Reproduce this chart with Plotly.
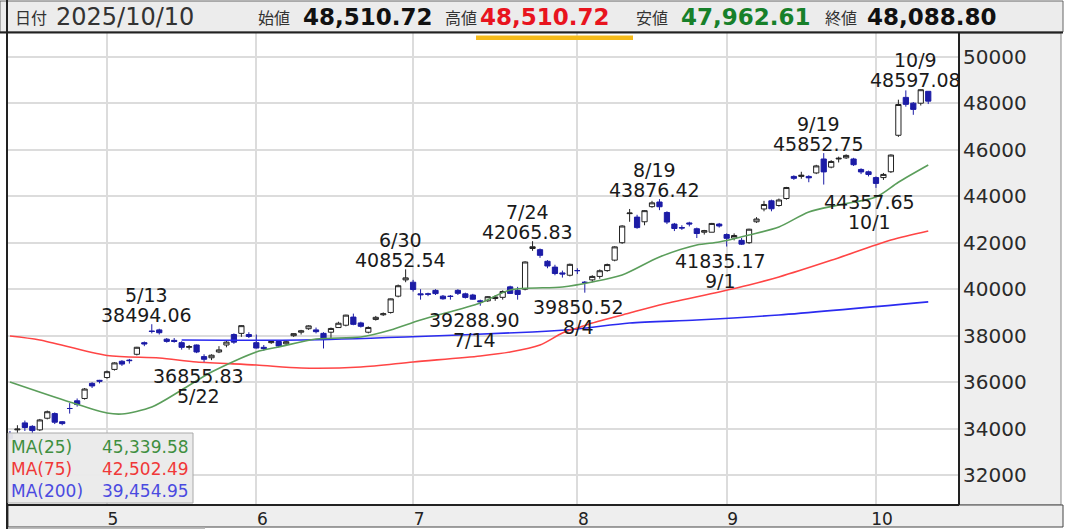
import plotly.graph_objects as go

# ---------------- data ----------------
dates = ["4/11","4/14","4/15","4/16","4/17","4/18","4/21","4/22","4/23","4/24","4/25","4/28","4/30",
         "5/1","5/2","5/7","5/8","5/9","5/12","5/13","5/14","5/15","5/16","5/19","5/20","5/21","5/22","5/23",
         "5/26","5/27","5/28","5/29","5/30",
         "6/2","6/3","6/4","6/5","6/6","6/9","6/10","6/11","6/12","6/13","6/16","6/17","6/18","6/19","6/20",
         "6/23","6/24","6/25","6/26","6/27","6/30",
         "7/1","7/2","7/3","7/4","7/7","7/8","7/9","7/10","7/11","7/14","7/15","7/16","7/17","7/18",
         "7/22","7/23","7/24","7/25","7/28","7/29","7/30","7/31",
         "8/1","8/4","8/5","8/6","8/7","8/8","8/12","8/13","8/14","8/15","8/18","8/19","8/20","8/21","8/22",
         "8/25","8/26","8/27","8/28","8/29",
         "9/1","9/2","9/3","9/4","9/5","9/8","9/9","9/10","9/11","9/12","9/16","9/17","9/18","9/19",
         "9/22","9/24","9/25","9/26","9/29","9/30",
         "10/1","10/2","10/3","10/6","10/7","10/8","10/9","10/10"]

opens = [33750,33950,34250,34100,33950,34450,34650,34300,34870,35200,35300,35950,36080,
         36200,36550,36900,36950,37200,37700,38200,38250,37850,37800,37700,37500,37600,37100,37050,
         37300,37600,38050,38100,38050,
         37700,37500,37700,37750,37650,38000,38150,38300,38250,38100,38150,38350,38450,38800,38550,
         38150,38700,38900,39000,39700,40400,
         40300,39800,39800,39950,39700,39700,39950,39800,39750,39500,39500,39600,39650,40100,
         39950,40000,41750,41700,41200,40950,40700,40600,
         40800,40300,40400,40550,40800,41250,42000,43250,43100,42900,43550,43750,43300,42800,42650,
         42850,42600,42450,42450,42800,
         42350,42200,42100,42000,42900,43450,43800,43600,43900,44850,44850,44850,45000,45600,
         45250,45600,45650,45600,45150,45050,
         44800,44800,45050,46620,48250,48000,48000,48510.72]
highs = [33900,34150,34350,34150,34420,34780,34700,34330,35100,35300,35750,36000,36100,
         36500,36860,36950,37000,37520,37750,38494.06,38300,37900,37900,37760,37600,37620,37200,37200,
         37550,37800,38100,38450,38150,
         38050,37600,37800,37800,37800,38100,38250,38450,38350,38150,38350,38600,38900,38950,38600,
         38400,38850,39000,39600,40200,40852.54,
         40400,40000,39850,40000,39750,39750,40000,39850,39800,39550,39700,39750,39950,40150,
         40100,41200,42065.83,41750,41250,41050,40800,41100,
         40900,40350,40600,40850,41100,41850,42750,43450,43200,43400,43800,43876.42,43350,42850,42750,
         42900,42650,42550,42850,42850,
         42400,42400,42200,42600,43100,43800,43850,43900,44400,44900,45050,44900,45350,45852.75,
         45550,45700,45800,45650,45200,45100,
         44850,45000,45800,48150,48550,48050,48597.08,48510.72]
lows = [33450,33800,33900,33750,33900,34400,34200,34150,34650,34950,35250,35750,35950,
        36150,36500,36700,36800,37150,37550,38100,38050,37700,37700,37400,37400,37250,36855.83,36950,
        37250,37500,37650,37950,37900,
        37450,37350,37650,37500,37600,37950,38050,38250,38100,37450,37850,38350,38400,38450,38350,
        38100,38650,38850,38950,39650,40300,
        39900,39550,39700,39750,39550,39550,39750,39600,39550,39288.90,39450,39500,39550,39800,
        39550,39950,41650,41350,40900,40600,40500,40550,
        40650,39850.52,40300,40450,40750,41200,41950,42900,42600,42750,43500,43400,42800,42500,42550,
        42700,42200,42350,42450,42650,
        41835.17,42100,41900,41950,42850,43350,43350,43550,43850,44700,44750,44600,44950,44500,
        45200,45450,45600,45300,44950,44850,
        44357.65,44700,45000,46550,47850,47500,47900,47962.61]
closes = [33585,33982,34050,33920,34377,34730,34279,34220,34868,35039,35705,35839,36045,
          36452,36830,36779,36928,37503,37644,38183,38128,37755,37753,37498,37529,37299,36985,37160,
          37390,37724,37722,38432,37965,
          37470,37446,37747,37554,37741,38088,38211,38421,38173,37834,38311,38536,38885,38488,38403,
          38354,38790,38942,39584,40150,40487,
          39986,39762,39785,39810,39587,39688,39821,39646,39569,39459,39678,39663,39901,39819,
          39774,41171,41826,41456,40998,40674,40654,41069,
          40799,40290,40549,40794,41059,41820,42718,43274,42649,43378,43714,43546,42888,42610,42633,
          42807,42394,42520,42828,42718,
          42188,42310,41938,42580,43018,43643,43459,43837,44372,44768,44902,44790,45303,45045,
          45493,45630,45754,45354,45043,44932,
          44550,44936,45769,47944,47950,47734,48580,48088.80]

# moving averages at these trading-day positions
ma25_pos = [0, 8, 13, 15, 19, 23, 27, 33, 36, 41, 47, 51, 55, 63, 67, 74, 78, 82, 87, 92, 95, 99, 103, 107, 111, 116, 119, 123]
ma25_val = [36009, 35150, 34676, 34633, 34934, 35665, 36439, 37300, 37515, 37860, 37946, 38247, 38677, 39408,
            39967, 40096, 40311, 40612, 41386, 41902, 42031, 42332, 42676, 43321, 43622, 43966, 44600, 45339.58]
ma75_pos = [0, 4, 13, 20, 25, 33, 39, 47, 54, 63, 67, 71, 74, 76, 78, 83, 87, 95, 99, 103, 110, 118, 123]
ma75_val = [37987, 37815, 37149, 37041, 36869, 36740, 36611, 36654, 36869, 37127, 37299, 37600, 38116, 38331,
            38546, 38976, 39320, 39879, 40180, 40524, 41240, 42115, 42502.49]
ma200_pos = [23, 39, 53, 70, 76, 83, 92, 103, 123]
ma200_val = [37815, 37815, 37944, 38160, 38288, 38546, 38675, 38891, 39454.95]

month_pos = [13, 33, 54, 76, 96, 116]
month_txt = ["5", "6", "7", "8", "9", "10"]
y_ticks = [32000, 34000, 36000, 38000, 40000, 42000, 44000, 46000, 48000, 50000]

# (index, kind, date label, value label)
marks = [(19, "H", "5/13", "38494.06"), (26, "L", "5/22", "36855.83"),
         (53, "H", "6/30", "40852.54"), (63, "L", "7/14", "39288.90"),
         (70, "H", "7/24", "42065.83"), (77, "L", "8/4", "39850.52"),
         (87, "H", "8/19", "43876.42"), (96, "L", "9/1", "41835.17"),
         (109, "H", "9/19", "45852.75"), (116, "L", "10/1", "44357.65"),
         (122, "H", "10/9", "48597.08")]

header = [("日付", "label"), ("2025/10/10", "date"),
          ("始値", "label"), ("48,510.72", "#111111"),
          ("高値", "label"), ("48,510.72", "#e8141e"),
          ("安値", "label"), ("47,962.61", "#17802a"),
          ("終値", "label"), ("48,088.80", "#111111")]
header_x = [13, 54, 256, 301, 443, 478, 634, 679, 823, 865]

ma_names = ["MA(25)", "MA(75)", "MA(200)"]
ma_last = ["45,339.58", "42,502.49", "39,454.95"]

# ---------------- style / layout ----------------
W, H = 1067, 529
L, R, T, B = 8, 959, 33, 505
FONT = "DejaVu Sans, Noto Sans CJK JP, sans-serif"
JFONT = "Noto Sans CJK JP, DejaVu Sans, sans-serif"
MA_COLORS = ["#5b9e5b", "#ff4545", "#2b2bf0"]
MA_TEXT = ["#3f8f3f", "#f03838", "#4a4ae0"]
DOWN = "#1c1ca6"

def px(x):
    return (x - L) / (R - L)

def py(y):
    return (B - y) / (B - T)

idx = list(range(len(dates)))
fig = go.Figure()

for pos, val, col in zip([ma200_pos, ma75_pos, ma25_pos], [ma200_val, ma75_val, ma25_val],
                         [MA_COLORS[2], MA_COLORS[1], MA_COLORS[0]]):
    fig.add_trace(go.Scatter(x=pos, y=val, mode="lines", showlegend=False, hoverinfo="skip",
                             line=dict(color=col, width=1.6, shape="spline", smoothing=0.8)))

fig.add_trace(go.Candlestick(
    x=idx, open=opens, high=highs, low=lows, close=closes, text=dates, showlegend=False,
    whiskerwidth=0,
    increasing=dict(line=dict(color="#222222", width=1), fillcolor="#ffffff"),
    decreasing=dict(line=dict(color=DOWN, width=1), fillcolor=DOWN)))

shapes = [
    # header
    dict(type="rect", xref="paper", yref="paper", x0=px(0), x1=px(1063), y0=py(32), y1=py(1),
         fillcolor="#ececec", line=dict(color="#666666", width=1), layer="below"),
    dict(type="line", xref="paper", yref="paper", x0=px(0), x1=px(1063), y0=py(32.5), y1=py(32.5),
         line=dict(color="#222222", width=2)),
    # right axis panel
    dict(type="rect", xref="paper", yref="paper", x0=px(959), x1=px(1061), y0=py(505), y1=py(33),
         fillcolor="#eeeeee", line=dict(color="#888888", width=1), layer="below"),
    # bottom axis band
    dict(type="rect", xref="paper", yref="paper", x0=px(8), x1=px(1063), y0=py(527), y1=py(505),
         fillcolor="#eeeeee", line=dict(color="#444444", width=1), layer="below"),
    dict(type="rect", xref="paper", yref="paper", x0=px(8), x1=px(205), y0=py(529), y1=py(527.5),
         fillcolor="#bbbbbb", line=dict(width=0), layer="below"),
    # plot frame
    dict(type="line", xref="paper", yref="paper", x0=px(7), x1=px(7), y0=py(529), y1=py(0),
         line=dict(color="#222222", width=2)),
    dict(type="line", xref="paper", yref="paper", x0=1, x1=1, y0=0, y1=py(33),
         line=dict(color="#222222", width=2)),
    dict(type="line", xref="paper", yref="paper", x0=0, x1=1, y0=0, y1=0,
         line=dict(color="#222222", width=2)),
    # highlight under high price
    dict(type="rect", xref="paper", yref="paper", x0=px(476), x1=px(633), y0=py(40), y1=py(35.5),
         fillcolor="#f6bb1a", line=dict(width=0), layer="above"),
    # MA legend box
    dict(type="rect", xref="paper", yref="paper", x0=px(8), x1=px(193), y0=py(503), y1=py(433),
         fillcolor="rgba(234,234,234,0.95)", line=dict(color="#aaaaaa", width=1), layer="above"),
]

annotations = []
for i, kind, dtxt, vtxt in marks:
    yv = highs[i] if kind == "H" else lows[i]
    if kind == "H":
        annotations.append(dict(x=i, y=yv, text=vtxt, yshift=9, xshift=-5))
        annotations.append(dict(x=i, y=yv, text=dtxt, yshift=29, xshift=-5))
    else:
        annotations.append(dict(x=i, y=yv, text=vtxt, yshift=-14, xshift=-6))
        annotations.append(dict(x=i, y=yv, text=dtxt, yshift=-34, xshift=-6))
for a in annotations:
    a.update(xref="x", yref="y", showarrow=False, xanchor="center", yanchor="middle",
             font=dict(family=FONT, size=19, color="#1a1a1a"))

for (txt, kind), x in zip(header, header_x):
    if kind == "label":
        f = dict(family=JFONT, size=16, color="#333333")
        t = txt
    elif kind == "date":
        f = dict(family=FONT, size=24, color="#333333")
        t = txt
    else:
        f = dict(family=FONT, size=23, color=kind)
        t = "<b>" + txt + "</b>"
    annotations.append(dict(xref="paper", yref="paper", x=px(x), y=py(17), text=t, showarrow=False,
                            xanchor="left", yanchor="middle", font=f))

for k in range(3):
    yy = py(447 + 22 * k)
    annotations.append(dict(xref="paper", yref="paper", x=px(9), y=yy, text=ma_names[k], showarrow=False,
                            xanchor="left", yanchor="middle",
                            font=dict(family=FONT, size=17, color=MA_TEXT[k])))
    annotations.append(dict(xref="paper", yref="paper", x=px(191), y=yy, text=ma_last[k], showarrow=False,
                            xanchor="right", yanchor="middle",
                            font=dict(family=FONT, size=17, color=MA_TEXT[k])))

fig.update_layout(
    width=W, height=H, autosize=False,
    margin=dict(l=L, r=W - R, t=T, b=H - B, pad=0, autoexpand=False),
    paper_bgcolor="#ffffff", plot_bgcolor="#ffffff",
    showlegend=False, shapes=shapes, annotations=annotations,
    boxgap=0.3, boxgroupgap=0,
    xaxis=dict(range=[-0.26, 127.12], tickmode="array", tickvals=month_pos, ticktext=month_txt,
               showgrid=True, gridcolor="#dcdcdc", gridwidth=2, zeroline=False, showline=False,
               automargin=False, ticks="", ticklabelshift=6, ticklabelstandoff=2,
               tickfont=dict(family=FONT, size=17, color="#222222"),
               rangeslider=dict(visible=False), fixedrange=True),
    yaxis=dict(range=[30718, 51019], side="right", tickmode="array", tickvals=y_ticks,
               ticktext=[str(v) for v in y_ticks], showgrid=True, gridcolor="#dcdcdc", gridwidth=2,
               zeroline=False, showline=False, automargin=False, ticks="", ticklabelstandoff=3,
               tickfont=dict(family=FONT, size=20, color="#2a2a2a"), fixedrange=True),
)

fig.write_html("out.html", config={"displayModeBar": False},
               post_script="document.body.style.margin='0';")
